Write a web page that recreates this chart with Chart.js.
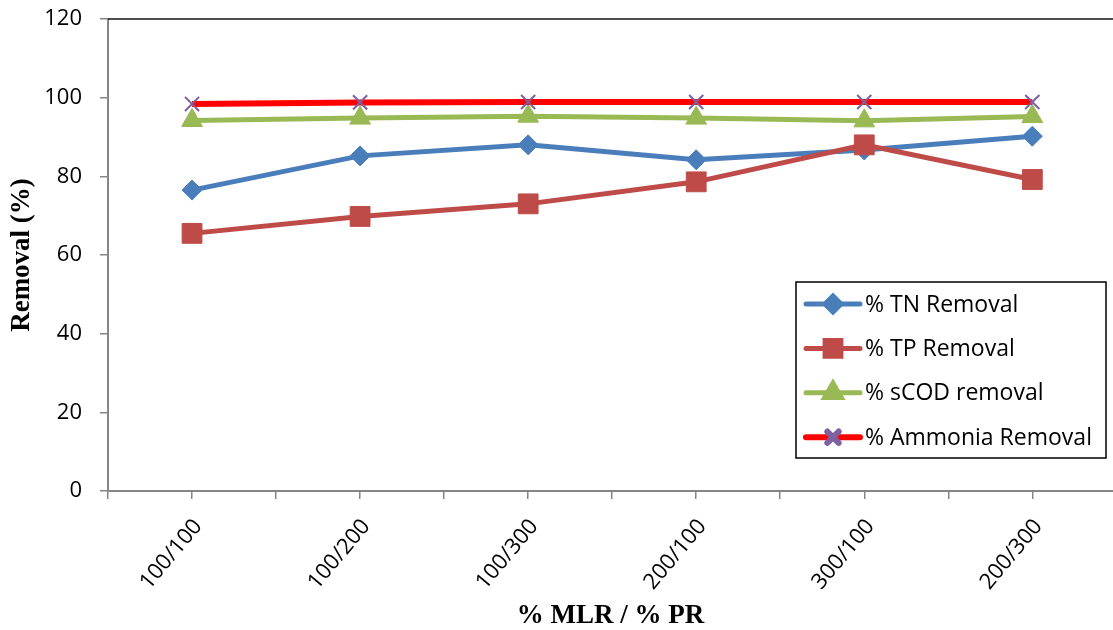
<!DOCTYPE html>
<html>
<head>
<meta charset="utf-8">
<script src="https://cdn.jsdelivr.net/npm/chart.js@4.4.1/dist/chart.umd.min.js"></script>
<style>
    html, body { margin: 0; background: #fff; overflow: hidden; }
</style>
</head>
<body>
<canvas id="meuGrafico" width="1128" height="630"></canvas>
<script>
// Dados
const categorias = ['100/100', '100/200', '100/300', '200/100', '300/100', '200/300'];
const remocaoTN = [76.5, 85.2, 88.0, 84.2, 86.7, 90.2];
const remocaoTP = [65.5, 69.8, 73.0, 78.6, 88.0, 79.2];
const remocaoSCOD = [94.2, 94.8, 95.3, 94.8, 94.1, 95.2];
const remocaoAmonia = [98.4, 98.8, 98.9, 98.9, 98.9, 98.9];
const ticksY = [0, 20, 40, 60, 80, 100, 120];

const fonteTexto = "'Open Sans', 'Liberation Sans', sans-serif";
const fonteTitulo = "'Liberation Serif', 'DejaVu Serif', serif";

function pontos(valores) {
    return valores.map((v, i) => ({ x: i, y: v }));
}

// Borda superior da área do gráfico
const bordaTopo = {
    id: 'bordaTopo',
    afterDraw(chart) {
        const ctx = chart.ctx;
        const a = chart.chartArea;
        ctx.save();
        ctx.strokeStyle = '#111';
        ctx.lineWidth = 1.5;
        ctx.beginPath();
        ctx.moveTo(a.left, a.top);
        ctx.lineTo(a.right, a.top);
        ctx.stroke();
        ctx.restore();
    }
};

// Legenda desenhada dentro da área do gráfico
const legendaInterna = {
    id: 'legendaInterna',
    afterDraw(chart) {
        const ctx = chart.ctx;
        const a = chart.chartArea;
        const x0 = a.right - 317;
        const y0 = 282;
        const largura = 310;
        const altura = 176;
        ctx.save();
        ctx.fillStyle = '#fff';
        ctx.fillRect(x0, y0, largura, altura);
        ctx.strokeStyle = '#000';
        ctx.lineWidth = 1.5;
        ctx.strokeRect(x0, y0, largura, altura);

        chart.data.datasets.forEach(function (ds, i) {
            const y = y0 + 22 + i * 44.4;
            ctx.strokeStyle = ds.borderColor;
            ctx.lineWidth = ds.borderWidth;
            ctx.lineCap = 'round';
            ctx.beginPath();
            ctx.moveTo(x0 + 10, y);
            ctx.lineTo(x0 + 64, y);
            ctx.stroke();
            ctx.fillStyle = ds.pointBackgroundColor;
            ctx.strokeStyle = ds.pointBorderColor;
            Chart.helpers.drawPoint(ctx, {
                pointStyle: ds.pointStyle,
                radius: ds.pointRadius * 0.8,
                borderWidth: ds.pointBorderWidth,
                rotation: 0
            }, x0 + 37, y);
            ctx.fillStyle = '#000';
            ctx.font = '23px ' + fonteTexto;
            ctx.textBaseline = 'middle';
            ctx.textAlign = 'left';
            ctx.fillText(ds.label, x0 + 69, y + 1);
        });
        ctx.restore();
    }
};

const config = {
    type: 'line',
    data: {
        datasets: [
            {
                label: '% TN Removal',
                data: pontos(remocaoTN),
                borderColor: '#4a7ebb',
                borderWidth: 5,
                pointStyle: 'rectRot',
                pointRadius: 10,
                pointBackgroundColor: '#4a7ebb',
                pointBorderColor: '#4a7ebb',
                pointBorderWidth: 1,
                order: 4
            },
            {
                label: '% TP Removal',
                data: pontos(remocaoTP),
                borderColor: '#be4b48',
                borderWidth: 5,
                pointStyle: 'rect',
                pointRadius: 14,
                pointBackgroundColor: '#be4b48',
                pointBorderColor: '#be4b48',
                pointBorderWidth: 1,
                order: 3
            },
            {
                label: '% sCOD removal',
                data: pontos(remocaoSCOD),
                borderColor: '#98b954',
                borderWidth: 5,
                pointStyle: 'triangle',
                pointRadius: 12,
                pointBackgroundColor: '#98b954',
                pointBorderColor: '#98b954',
                pointBorderWidth: 1,
                order: 2
            },
            {
                label: '% Ammonia Removal',
                data: pontos(remocaoAmonia),
                borderColor: '#ff0000',
                borderWidth: 6,
                pointStyle: 'crossRot',
                pointRadius: 10,
                pointBackgroundColor: '#7e5fa0',
                pointBorderColor: '#7e5fa0',
                pointBorderWidth: 2,
                order: 1
            }
        ]
    },
    options: {
        responsive: false,
        animation: false,
        layout: { padding: { top: 19, right: 0, left: 0, bottom: 0 } },
        elements: { line: { tension: 0 } },
        plugins: {
            legend: { display: false },
            tooltip: { enabled: false }
        },
        scales: {
            x: {
                type: 'linear',
                min: -0.5,
                max: 5.48,
                afterFit(s) {
                    s.height = 139;
                    s.paddingRight = 0;
                    s.paddingLeft = 0;
                },
                afterBuildTicks(s) {
                    const lista = [];
                    for (let v = -0.5; v <= categorias.length - 0.5; v += 0.5) {
                        if (v <= s.max) lista.push({ value: v });
                    }
                    s.ticks = lista;
                },
                grid: {
                    drawOnChartArea: false,
                    drawTicks: true,
                    tickLength: 8,
                    color: '#868686',
                    lineWidth: 1.5
                },
                border: { display: true, color: '#868686', width: 2 },
                ticks: {
                    autoSkip: false,
                    minRotation: 50,
                    maxRotation: 50,
                    padding: 15,
                    labelOffset: 6,
                    color: '#000',
                    font: { family: fonteTexto, size: 22 },
                    callback: function (v) {
                        return Number.isInteger(v) ? categorias[v] : '';
                    }
                },
                title: {
                    display: true,
                    text: '% MLR / % PR',
                    color: '#000',
                    font: { family: fonteTitulo, size: 27, weight: 'bold', lineHeight: 1 },
                    padding: { top: 0, bottom: 0 }
                }
            },
            y: {
                min: 0,
                max: 120,
                afterFit(s) {
                    s.width = 108;
                    s.paddingTop = 0;
                    s.paddingBottom = 0;
                },
                afterBuildTicks(s) { s.ticks = ticksY.map(v => ({ value: v })); },
                grid: {
                    drawOnChartArea: false,
                    drawTicks: true,
                    tickLength: 8,
                    color: '#868686',
                    lineWidth: 1.5
                },
                border: { display: true, color: '#868686', width: 2 },
                ticks: {
                    padding: 18,
                    color: '#000',
                    font: { family: fonteTexto, size: 22 }
                },
                title: {
                    display: true,
                    text: 'Removal (%)',
                    color: '#000',
                    font: { family: fonteTitulo, size: 27, weight: 'bold', lineHeight: 1 },
                    padding: { top: 9, bottom: 0 }
                }
            }
        }
    },
    plugins: [bordaTopo, legendaInterna]
};

let meuGrafico = new Chart(document.getElementById('meuGrafico'), config);
</script>
</body>
</html>
